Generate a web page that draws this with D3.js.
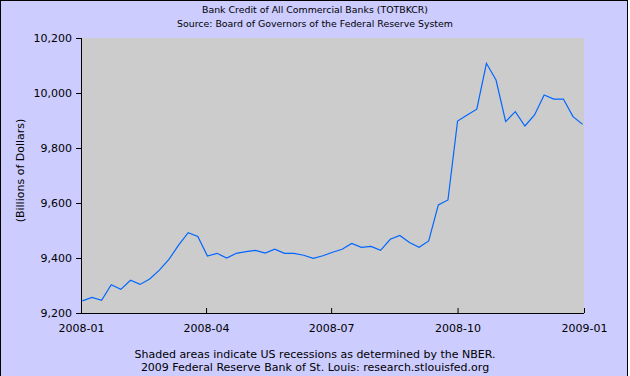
<!DOCTYPE html>
<html>
<head>
<meta charset="utf-8">
<script src="https://cdn.jsdelivr.net/npm/d3@7"></script>
<style>
  body { margin: 0; background: #fff; }
  text { font-family: "DejaVu Sans", Verdana, sans-serif; fill: #000; }
</style>
</head>
<body>
<div class="vis-linechart"></div>
<script>
// Weekly observations, 2008-01-02 .. 2008-12-31
const startDate = new Date(2008, 0, 2);
const values = [
    9244, 9257, 9246, 9303, 9286, 9319, 9304, 9324, 9356, 9395,
    9447, 9492, 9478, 9407, 9417, 9400, 9417, 9423, 9428, 9418,
    9432, 9417, 9417, 9410, 9399, 9408, 9421, 9432, 9453, 9439,
    9442, 9428, 9468, 9482, 9456, 9439, 9462, 9593, 9611, 9898,
    9920, 9941, 10108, 10047, 9896, 9932, 9880, 9920, 9993, 9978,
    9978, 9914, 9886
];
const yTicks = [9200, 9400, 9600, 9800, 10000, 10200];
const xTicks = ["2008-01", "2008-04", "2008-07", "2008-10", "2009-01"];
const titleLines = [
    "Bank Credit of All Commercial Banks (TOTBKCR)",
    "Source: Board of Governors of the Federal Reserve System"
];
const footLines = [
    "Shaded areas indicate US recessions as determined by the NBER.",
    "2009 Federal Reserve Bank of St. Louis: research.stlouisfed.org"
];

const data = values.map((v, i) => ({ date: d3.timeDay.offset(startDate, i * 7), value: v }));
const parseMonth = d3.timeParse("%Y-%m");

const W = 630, H = 376;
const margin = { top: 38, right: 46, bottom: 63, left: 81 };
const width = W - margin.left - margin.right;
const height = H - margin.top - margin.bottom;

const root = d3.select('.vis-linechart').append('svg')
    .attr('width', W)
    .attr('height', H);

root.append('rect')
    .attr('x', 0.5).attr('y', 0.5)
    .attr('width', W - 3).attr('height', H + 10)
    .attr('fill', '#ccccff')
    .attr('stroke', '#000');

const svg = root.append('g')
    .attr('transform', 'translate(' + margin.left + ',' + margin.top + ')');

// Scales
const x = d3.scaleTime()
    .domain([parseMonth(xTicks[0]), parseMonth(xTicks[xTicks.length - 1])])
    .range([0, width]);
const y = d3.scaleLinear()
    .domain([yTicks[0], yTicks[yTicks.length - 1]])
    .range([height, 0]);

svg.append('rect')
    .attr('width', width)
    .attr('height', height)
    .attr('fill', '#cccccc');

// Line
svg.append('path')
    .datum(data)
    .attr('fill', 'none')
    .attr('stroke', '#0066ff')
    .attr('stroke-width', 1.2)
    .attr('d', d3.line().x(d => x(d.date)).y(d => y(d.value)));

// Y axis
const yAxis = svg.append('g')
    .call(d3.axisLeft(y).tickValues(yTicks).tickSize(5).tickPadding(4).tickFormat(d3.format(',')));
yAxis.selectAll('text').style('font-size', '11px').attr('font-family', null);
yAxis.select('.domain').attr('d', 'M0.5,0V' + height);

// X axis (ticks point up into the plot)
const xAxis = svg.append('g')
    .attr('transform', 'translate(0,' + height + ')')
    .call(d3.axisBottom(x).tickValues(xTicks.map(parseMonth)).tickSize(-5).tickPadding(11)
        .tickFormat(d3.timeFormat('%Y-%m')));
xAxis.selectAll('text').style('font-size', '11px').attr('font-family', null);
xAxis.select('.domain').attr('d', 'M0,0.5H' + width);

// Axis label
svg.append('text')
    .attr('text-anchor', 'middle')
    .attr('transform', 'rotate(-90)')
    .attr('x', -height / 2 + 5)
    .attr('y', -margin.left + 24)
    .style('font-size', '11px')
    .text('(Billions of Dollars)');

// Title
titleLines.forEach((t, i) => {
    root.append('text')
        .attr('text-anchor', 'middle')
        .attr('x', W / 2)
        .attr('y', 13 + i * 14)
        .style('font-size', '9.4px')
        .text(t);
});

// Footer
footLines.forEach((t, i) => {
    root.append('text')
        .attr('text-anchor', 'middle')
        .attr('x', W / 2)
        .attr('y', 358 + i * 13)
        .style('font-size', '11px')
        .text(t);
});
</script>
</body>
</html>
